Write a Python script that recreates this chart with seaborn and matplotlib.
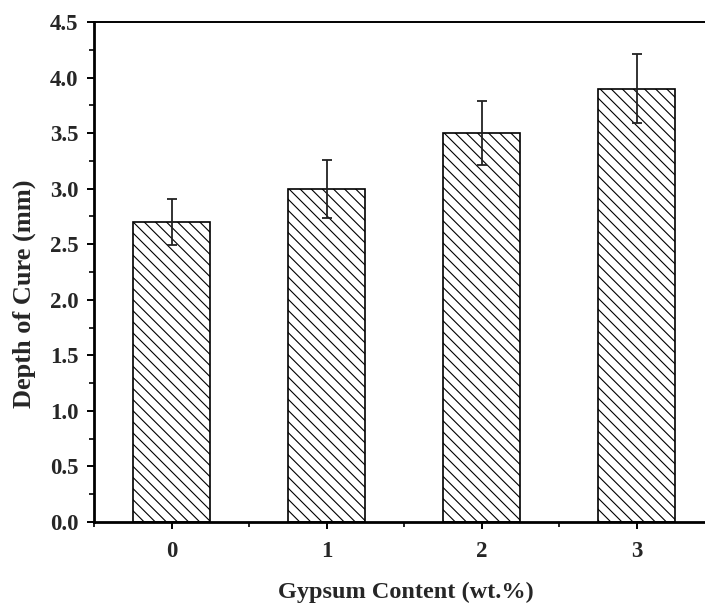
#!/usr/bin/env python3
"""Depth of cure vs gypsum content, hatched bars with error bars."""

import matplotlib
matplotlib.use("Agg")
import matplotlib.pyplot as plt
import numpy as np
import pandas as pd
import seaborn as sns
from matplotlib.ticker import MultipleLocator

GYPSUM = ["0", "1", "2", "3"]
DEPTH = [2.7, 3.0, 3.5, 3.9]
DEPTH_ERR = [0.21, 0.26, 0.29, 0.31]

sns.set_theme(style="ticks")
plt.rcParams.update({
    "font.family": ["Liberation Serif", "DejaVu Serif"],
    "font.weight": "bold",
    "axes.labelweight": "bold",
    "hatch.linewidth": 0.8,
    "hatch.color": "black",
})

df = pd.DataFrame({"gypsum": GYPSUM, "depth": DEPTH})

fig = plt.figure(figsize=(7.05, 6.05), dpi=100)
ax = fig.add_axes([94 / 705, 83 / 605, 620 / 705, 500 / 605])

sns.barplot(data=df, x="gypsum", y="depth", order=GYPSUM, width=0.5,
            color="white", edgecolor="black", linewidth=1.2, errorbar=None, ax=ax)
for bar in ax.patches:
    bar.set_hatch("\\\\\\")

ax.errorbar(np.arange(len(GYPSUM)), DEPTH, yerr=DEPTH_ERR, fmt="none",
            ecolor="#222222", elinewidth=1.3, capsize=3.5, capthick=1.3, zorder=5)

ax.set_xlim(-0.5, 3.5)
ax.set_ylim(0, 4.5)
ax.yaxis.set_major_locator(MultipleLocator(0.5))
ax.yaxis.set_minor_locator(MultipleLocator(0.25))
ax.set_xticks(np.arange(-0.5, 3.6, 1.0), minor=True)

ax.tick_params(axis="both", which="major", direction="out", length=5, width=1.4,
               labelsize=16.5, color="black")
ax.tick_params(axis="both", which="minor", direction="out", length=3.5, width=1.2, color="black")
ax.tick_params(axis="x", pad=9)
ax.tick_params(axis="y", pad=6)
for lab in ax.get_xticklabels() + ax.get_yticklabels():
    lab.set_fontweight("bold")

xlab = ax.set_xlabel("Gypsum Content (wt.%)", fontsize=17.5)
ylab = ax.set_ylabel("Depth of Cure (mm)", fontsize=19)
xlab.set_verticalalignment("center")
ylab.set_verticalalignment("center")
ax.xaxis.set_label_coords(312 / 620, -70 / 500)
ax.yaxis.set_label_coords(-70 / 620, 228 / 500)

for side in ["left", "bottom"]:
    ax.spines[side].set_linewidth(2.0)
    ax.spines[side].set_color("black")
ax.spines["top"].set_visible(True)
ax.spines["top"].set_linewidth(1.4)
ax.spines["top"].set_color("black")
ax.spines["right"].set_visible(True)
ax.spines["right"].set_linewidth(1.4)

fig.savefig("out.png", dpi=100)
